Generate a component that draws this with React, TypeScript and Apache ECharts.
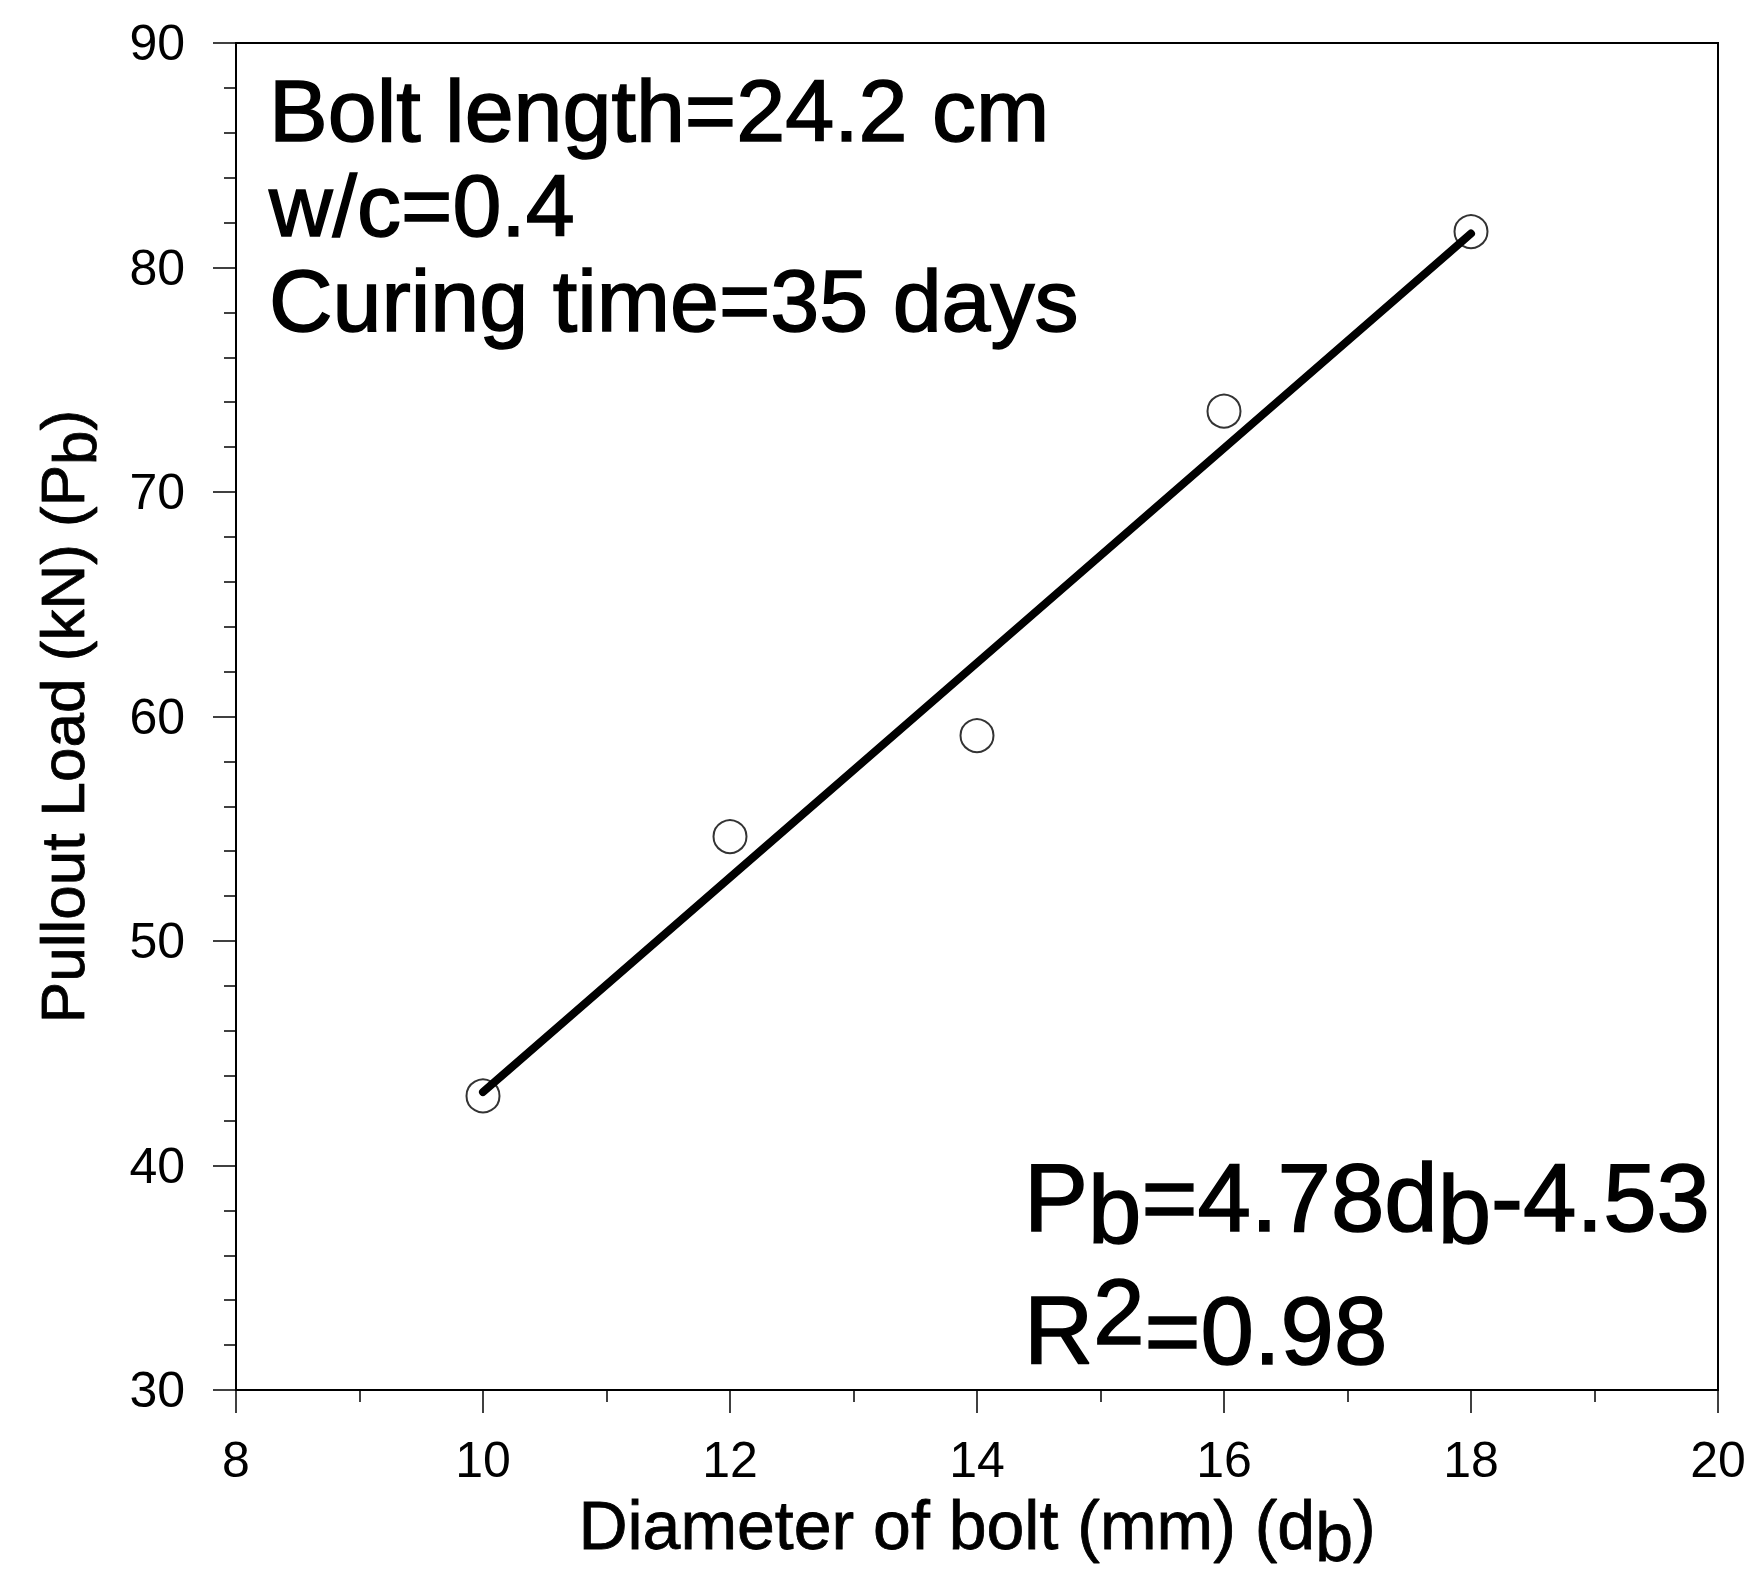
import React, { useEffect, useRef } from "react";
import * as echarts from "echarts";

// ---- data ----
const xMin = 8;
const xMax = 20;
const xInterval = 2;
const yMin = 30;
const yMax = 90;
const yInterval = 10;

const boltDiameters = [10, 12, 14, 16, 18];
const pulloutLoads = [43.1, 54.65, 59.15, 73.6, 81.6];

const fitDiameters = [10, 18];
const fitLoads = [43.27, 81.51];

const annotationLines = ["Bolt length=24.2 cm", "w/c=0.4", "Curing time=35 days"];
const equationText = "{a|P}{s|b}{a|=4.78d}{s|b}{a|-4.53}";
const r2Text = "{a|R}{p|2}{a|=0.98}";

const xAxisTitle = "{a|Diameter of bolt (mm) (d}{s|b}{a|)}";
const yAxisTitle = "{a|Pullout Load (kN) (P}{s|b}{a|)}";

const FONT = '"Liberation Sans", Arial, Helvetica, sans-serif';
const TITLE_BORDER = { textBorderColor: "#000", textBorderWidth: 0.8 };
const BOLD_G = { stroke: "#000", lineWidth: 1.5 };

export default function App() {
  const ref = useRef<HTMLDivElement>(null);

  useEffect(() => {
    if (!ref.current) return;
    const chart = echarts.init(ref.current, undefined, { renderer: "svg" });

    const xRich = {
      a: { fontSize: 68, fontFamily: FONT, color: "#000", ...TITLE_BORDER },
      s: { fontSize: 68, fontFamily: FONT, color: "#000", padding: [24, 0, 0, 0], ...TITLE_BORDER },
    };
    const yRich = {
      a: { fontSize: 62, fontFamily: FONT, color: "#000", ...TITLE_BORDER },
      s: { fontSize: 62, fontFamily: FONT, color: "#000", padding: [24, 0, 0, 0], ...TITLE_BORDER },
    };

    const axisCommon = {
      type: "value" as const,
      nameLocation: "middle" as const,
      axisLine: { show: true, onZero: false, lineStyle: { color: "#000", width: 2 } },
      axisTick: { show: true, inside: false, length: 23, lineStyle: { color: "#000", width: 1.5 } },
      minorTick: { show: true, length: 12, lineStyle: { color: "#000", width: 1.5 } },
      splitLine: { show: false },
      minorSplitLine: { show: false },
    };

    const labelStyle = {
      color: "#000",
      fontSize: 50,
      fontFamily: FONT,
      showMinLabel: true,
      showMaxLabel: true,
    };

    const option: any = {
      animation: false,
      backgroundColor: "#fff",
      grid: {
        left: 236,
        right: 39,
        top: 43,
        bottom: 187,
        show: true,
        borderColor: "#000",
        borderWidth: 2,
        backgroundColor: "rgba(0,0,0,0)",
        containLabel: false,
      },
      xAxis: {
        ...axisCommon,
        min: xMin,
        max: xMax,
        interval: xInterval,
        name: xAxisTitle,
        nameGap: 89,
        nameTextStyle: { fontSize: 68, fontFamily: FONT, color: "#000", rich: xRich },
        minorTick: { ...axisCommon.minorTick, splitNumber: 2 },
        axisLabel: { ...labelStyle, margin: 45 },
      },
      yAxis: {
        ...axisCommon,
        min: yMin,
        max: yMax,
        interval: yInterval,
        name: yAxisTitle,
        nameGap: 131,
        nameTextStyle: { fontSize: 62, fontFamily: FONT, color: "#000", rich: yRich },
        minorTick: { ...axisCommon.minorTick, splitNumber: 5 },
        axisLabel: { ...labelStyle, margin: 51 },
      },
      series: [
        {
          type: "line",
          data: fitDiameters.map((d, i) => [d, fitLoads[i]]),
          symbol: "none",
          showSymbol: false,
          lineStyle: { color: "#000", width: 8, cap: "round" },
          z: 2,
          silent: true,
        },
        {
          type: "scatter",
          data: boltDiameters.map((d, i) => [d, pulloutLoads[i]]),
          symbol: "circle",
          symbolSize: 33,
          itemStyle: { color: "rgba(0,0,0,0)", borderColor: "#000", borderWidth: 2 },
          z: 3,
          silent: true,
        },
      ],
      graphic: [
        {
          type: "text",
          x: 269,
          y: 205,
          style: {
            text: annotationLines.join("\n"),
            fontSize: 88,
            fontFamily: FONT,
            lineHeight: 95,
            fill: "#000",
            align: "left",
            verticalAlign: "middle",
            ...BOLD_G,
          },
        },
        {
          type: "text",
          x: 1024,
          y: 1197,
          style: {
            text: equationText,
            fill: "#000",
            align: "left",
            verticalAlign: "middle",
            rich: {
              a: { fontSize: 96, fontFamily: FONT, fill: "#000", ...BOLD_G },
              s: { fontSize: 96, fontFamily: FONT, fill: "#000", padding: [24, 0, 0, 0], ...BOLD_G },
            },
          },
        },
        {
          type: "text",
          x: 1024,
          y: 1330,
          style: {
            text: r2Text,
            fill: "#000",
            align: "left",
            verticalAlign: "middle",
            rich: {
              a: { fontSize: 96, fontFamily: FONT, fill: "#000", ...BOLD_G },
              p: { fontSize: 92, fontFamily: FONT, fill: "#000", padding: [0, 0, 37, 0], ...BOLD_G },
            },
          },
        },
      ],
    };

    chart.setOption(option);
    return () => {
      chart.dispose();
    };
  }, []);

  return (
    <div
      ref={ref}
      style={{
        position: "absolute",
        left: 0,
        top: 0,
        width: 1757,
        height: 1577,
        background: "#fff",
      }}
    />
  );
}
